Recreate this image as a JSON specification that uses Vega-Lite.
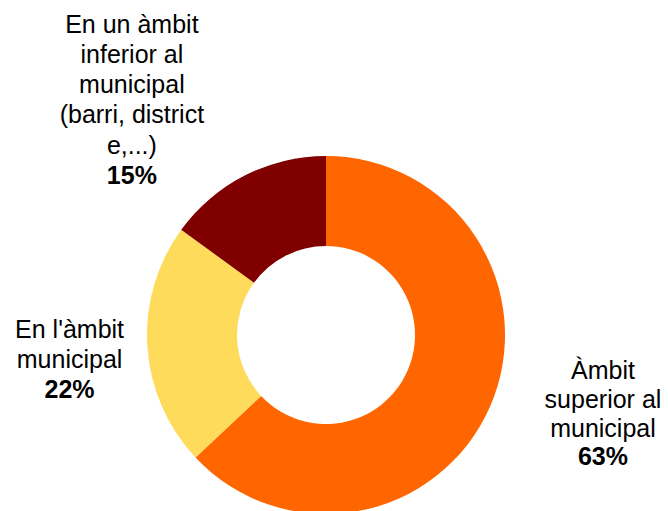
{
  "$schema": "https://vega.github.io/schema/vega-lite/v6.json",
  "width": 652,
  "height": 670,
  "autosize": {"type": "none"},
  "padding": {"left": 0, "top": 0, "right": 16, "bottom": 0},
  "background": "white",
  "config": {"view": {"stroke": null}, "text": {"font": "Liberation Sans", "fontSize": 25, "color": "#000000"}},
  "data": {
    "values": [
      {"cat": "superior", "order": 1, "value": 63, "name": "Àmbit\nsuperior al\nmunicipal", "pct": "63%"},
      {"cat": "municipal", "order": 2, "value": 22, "name": "En l'àmbit\nmunicipal", "pct": "22%"},
      {"cat": "inferior", "order": 3, "value": 15, "name": "En un àmbit\ninferior al\nmunicipal\n(barri, district\ne,...)", "pct": "15%"}
    ]
  },
  "encoding": {
    "theta": {"field": "value", "type": "quantitative", "stack": true},
    "order": {"field": "order", "type": "quantitative"},
    "detail": {"field": "cat", "type": "nominal"}
  },
  "layer": [
    {
      "mark": {"type": "arc", "innerRadius": 89, "outerRadius": 179},
      "encoding": {
        "color": {"field": "cat", "type": "nominal", "scale": {"domain": ["superior", "municipal", "inferior"], "range": ["#FF6600", "#FFDB5C", "#800000"]}, "legend": null}
      }
    },
    {
      "mark": {"type": "text", "radius": 280, "lineBreak": "\n", "lineHeight": 29, "baseline": "alphabetic", "align": "center", "dx": 20, "dy": -67},
      "encoding": {"text": {"condition": {"test": "datum.cat === 'superior'", "field": "name", "type": "nominal"}, "value": ""}}
    },
    {
      "mark": {"type": "text", "radius": 280, "baseline": "alphabetic", "align": "center", "fontWeight": "bold", "dx": 20, "dy": 19},
      "encoding": {"text": {"condition": {"test": "datum.cat === 'superior'", "field": "pct", "type": "nominal"}, "value": ""}}
    },
    {
      "mark": {"type": "text", "radius": 280, "lineBreak": "\n", "lineHeight": 30, "baseline": "alphabetic", "align": "center", "dx": 23, "dy": -15},
      "encoding": {"text": {"condition": {"test": "datum.cat === 'municipal'", "field": "name", "type": "nominal"}, "value": ""}}
    },
    {
      "mark": {"type": "text", "radius": 280, "baseline": "alphabetic", "align": "center", "fontWeight": "bold", "dx": 23, "dy": 45},
      "encoding": {"text": {"condition": {"test": "datum.cat === 'municipal'", "field": "pct", "type": "nominal"}, "value": ""}}
    },
    {
      "mark": {"type": "text", "radius": 280, "lineBreak": "\n", "lineHeight": 30.3, "baseline": "alphabetic", "align": "center", "dx": -67, "dy": -53},
      "encoding": {"text": {"condition": {"test": "datum.cat === 'inferior'", "field": "name", "type": "nominal"}, "value": ""}}
    },
    {
      "mark": {"type": "text", "radius": 280, "baseline": "alphabetic", "align": "center", "fontWeight": "bold", "dx": -67, "dy": 98},
      "encoding": {"text": {"condition": {"test": "datum.cat === 'inferior'", "field": "pct", "type": "nominal"}, "value": ""}}
    }
  ]
}
